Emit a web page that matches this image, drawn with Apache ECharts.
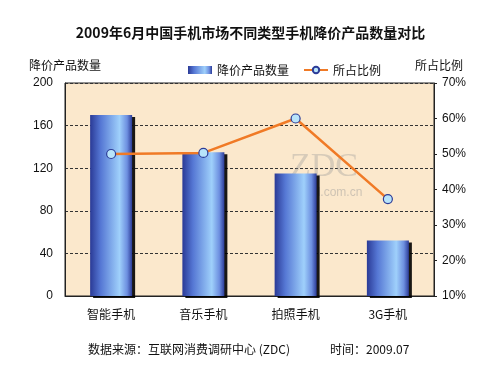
<!DOCTYPE html>
<html>
<head>
<meta charset="utf-8">
<script src="https://cdn.jsdelivr.net/npm/echarts@6/dist/echarts.min.js"></script>
<style>
  html, body { margin: 0; padding: 0; background: #fff; }
  #chart { width: 501px; height: 376px; }
</style>
</head>
<body>
<div id="chart"></div>
<script>
// 图表数据
const categories = ['智能手机', '音乐手机', '拍照手机', '3G手机']
const countValues = [170, 135, 115, 52]
const shareValues = [50, 50.3, 60, 37.3]
const leftTicks = [0, 40, 80, 120, 160, 200]
const rightTicks = ['10%', '20%', '30%', '40%', '50%', '60%', '70%']

const FONT = '"Liberation Sans", "Noto Sans CJK SC", sans-serif'

const barColor = new echarts.graphic.LinearGradient(0, 0, 1, 0, [
  { offset: 0, color: '#2a3a96' },
  { offset: 0.25, color: '#5577d4' },
  { offset: 0.7, color: '#9fd0fb' },
  { offset: 0.88, color: '#6d8fe0' },
  { offset: 1, color: '#2c3c98' }
])

const chart = echarts.init(document.getElementById('chart'))

const option = {
  backgroundColor: '#ffffff',
  animation: false,
  title: {
    text: '2009年6月中国手机市场不同类型手机降价产品数量对比',
    left: 'center',
    top: 21,
    textStyle: { fontSize: 14, fontWeight: 'bold', color: '#111', fontFamily: '"Noto Sans CJK SC", sans-serif' }
  },
  legend: {
    top: 59,
    left: 183,
    itemGap: 14,
    itemWidth: 24,
    itemHeight: 8,
    textStyle: { fontSize: 12, color: '#111', fontFamily: '"Noto Sans CJK SC", sans-serif' },
    data: [
      { name: '降价产品数量', icon: 'rect' },
      { name: '所占比例' }
    ]
  },
  grid: {
    left: 65, right: 67, top: 83, bottom: 80,
    show: true,
    backgroundColor: '#fbe8cc',
    borderColor: '#222',
    borderWidth: 1
  },
  xAxis: {
    type: 'category',
    data: categories,
    axisLine: { lineStyle: { color: '#222' } },
    axisTick: { inside: true, length: 4, lineStyle: { color: '#222' } },
    axisLabel: { fontSize: 12, color: '#111', margin: 12, fontFamily: '"Noto Sans CJK SC", sans-serif' }
  },
  yAxis: [
    {
      type: 'value',
      min: 0, max: 200, interval: 40,
      name: '降价产品数量',
      nameLocation: 'end',
      nameGap: 12,
      nameTextStyle: { fontSize: 12, color: '#111', align: 'center', padding: [0, 0, 0, 0], fontFamily: '"Noto Sans CJK SC", sans-serif' },
      axisLine: { show: true, lineStyle: { color: '#222' } },
      axisTick: { show: false },
      axisLabel: {
        fontSize: 12, color: '#111', margin: 12, fontFamily: FONT,
        formatter: v => (leftTicks.includes(v) ? String(v) : '')
      },
      splitLine: { show: true, lineStyle: { color: '#333', type: [3, 2], width: 1 } }
    },
    {
      type: 'value',
      min: 10, max: 70, interval: 10,
      name: '所占比例',
      nameLocation: 'end',
      nameGap: 12,
      nameTextStyle: { fontSize: 12, color: '#111', align: 'center', padding: [0, 0, 0, 10], fontFamily: '"Noto Sans CJK SC", sans-serif' },
      axisLine: { show: true, lineStyle: { color: '#222' } },
      axisTick: { show: true, length: 3, lineStyle: { color: '#222' } },
      axisLabel: {
        fontSize: 12, color: '#111', margin: 8, fontFamily: FONT,
        formatter: v => rightTicks[Math.round((v - 10) / 10)] || ''
      },
      splitLine: { show: false }
    }
  ],
  series: [
    {
      name: '降价产品数量',
      type: 'bar',
      yAxisIndex: 0,
      data: countValues,
      barWidth: 42,
      itemStyle: {
        color: barColor,
        shadowColor: 'rgba(0,0,0,0.9)',
        shadowOffsetX: 3,
        shadowOffsetY: 2,
        shadowBlur: 0
      },
      z: 2
    },
    {
      name: '所占比例',
      type: 'line',
      yAxisIndex: 1,
      data: shareValues,
      symbol: 'circle',
      symbolSize: 9,
      lineStyle: { color: '#f07a26', width: 2.5 },
      itemStyle: { color: '#b8e4fa', borderColor: '#2c3c98', borderWidth: 1.2 },
      z: 5
    }
  ],
  graphic: [
    {
      type: 'text', left: 290, top: 150, z: 1, silent: true,
      style: { text: 'ZDC', fontSize: 34, fontFamily: '"Liberation Serif", serif', fill: 'rgba(150,150,150,0.35)' }
    },
    {
      type: 'text', left: 283, top: 187, z: 1, silent: true,
      style: { text: 'zdc.zol.com.cn', fontSize: 12, fontFamily: FONT, fill: 'rgba(150,150,150,0.45)' }
    },
    {
      type: 'text', left: 88, top: 343,
      style: { text: '数据来源：互联网消费调研中心 (ZDC)', fontSize: 12, fontFamily: '"Noto Sans CJK SC", sans-serif', fill: '#111' }
    },
    {
      type: 'text', left: 330, top: 343,
      style: { text: '时间：2009.07', fontSize: 12, fontFamily: '"Noto Sans CJK SC", sans-serif', fill: '#111' }
    }
  ]
}

chart.setOption(option)
</script>
</body>
</html>
